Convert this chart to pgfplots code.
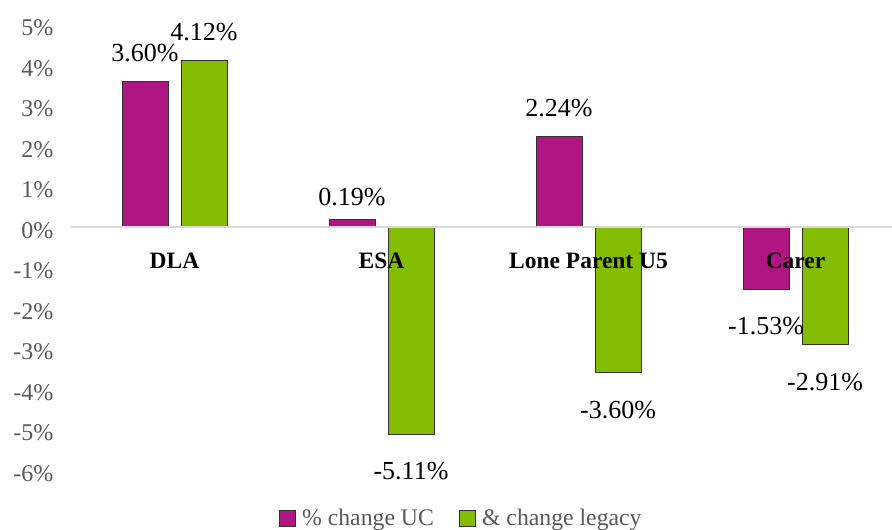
\documentclass[border=0pt]{standalone}
\usepackage{fontspec}
\setmainfont{Liberation Serif}
\usepackage{pgfplots}
\pgfplotsset{compat=1.18}

\definecolor{ucmag}{RGB}{176,22,129}
\definecolor{leggreen}{RGB}{132,188,0}
\definecolor{ticktext}{RGB}{89,89,89}
\definecolor{zeroline}{RGB}{217,217,217}
\definecolor{barline}{RGB}{50,50,50}

\begin{document}
\begin{tikzpicture}
% fixed page frame around the axis box
\useasboundingbox (-53.25pt,-45pt) rectangle (615.75pt,352.5pt);
\begin{axis}[
  at={(0pt,0pt)}, anchor=south west,
  scale only axis, width=615.75pt, height=334.125pt,
  ymin=-6, ymax=5, xmin=-0.5, xmax=3.466,
  axis on top,
  axis x line*=middle, axis y line*=left,
  x axis line style={draw=zeroline, line width=1.1pt},
  y axis line style={draw=none},
  hide obscured x ticks=false, hide obscured y ticks=false,
  major tick length=0pt,
  xtick={0,1,2,3},
  xticklabels={DLA,ESA,Lone Parent U5,Carer},
  xticklabel style={anchor=center, yshift=-25.5pt,
    font=\fontsize{17.6}{20}\selectfont\bfseries},
  ytick={-6,-5,-4,-3,-2,-1,0,1,2,3,4,5},
  yticklabels={-6\%,-5\%,-4\%,-3\%,-2\%,-1\%,0\%,1\%,2\%,3\%,4\%,5\%},
  yticklabel style={anchor=east, xshift=-9.75pt, yshift=-2.5pt,
    text=ticktext, font=\fontsize{18}{20}\selectfont},
  ybar=9.75pt, bar width=34.5pt,
  point meta=explicit symbolic,
  nodes near coords,
  nodes near coords align={center},
  visualization depends on={y \as \rawy},
  % labels sit above positive bars and below negative ones;
  % a very short bar gets its label a little closer
  every node near coord/.append style={anchor=center,
    yshift={ifthenelse(\rawy>0,ifthenelse(\rawy<0.5,16.5,21),-27.75)*1pt},
    font=\fontsize{19.5}{22}\selectfont, text=black},
  legend image code/.code={\draw[#1] (0pt,-6pt) rectangle (12pt,6pt);},
  legend columns=2,
  legend style={at={(0.476,-0.108)}, anchor=center, draw=none, fill=none,
    font=\color{ticktext}\fontsize{17.8}{20}\selectfont,
    /tikz/every odd column/.append style={column sep=2.5pt},
    /tikz/every even column/.append style={column sep=17pt}},
]
\addplot[fill=ucmag, draw=barline, line width=0.6pt]
  coordinates {(0,3.60) [3.60\%] (1,0.19) [0.19\%] (2,2.24) [2.24\%] (3,-1.53) [-1.53\%]};
\addplot[fill=leggreen, draw=barline, line width=0.6pt]
  coordinates {(0,4.12) [4.12\%] (1,-5.11) [-5.11\%] (2,-3.60) [-3.60\%] (3,-2.91) [-2.91\%]};
\legend{\% change UC, \& change legacy}
\end{axis}
\end{tikzpicture}
\end{document}
